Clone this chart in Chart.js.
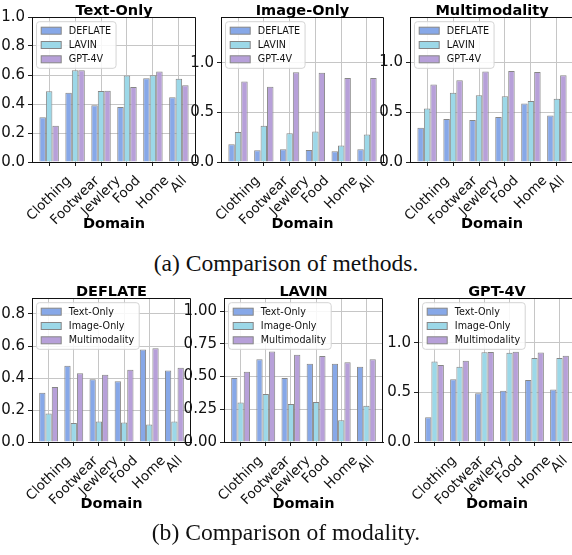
<!DOCTYPE html>
<html>
<head>
<meta charset="utf-8">
<script src="https://cdn.jsdelivr.net/npm/chart.js@4.4.1/dist/chart.umd.min.js"></script>
<style>
  html, body { margin: 0; padding: 0; background: #fff; overflow: hidden; }
  #wrap { position: relative; width: 572px; height: 555px; overflow: hidden; }
  canvas { position: absolute; }
  .cap { position: absolute; left: 0; width: 572px; text-align: center; line-height: 28px;
         font-family: "Liberation Serif", "Times New Roman", serif; font-size: 23.6px; color: #111; }
</style>
</head>
<body>
<div id="wrap">
  <canvas id="c0"></canvas>
  <canvas id="c1"></canvas>
  <canvas id="c2"></canvas>
  <div class="cap" style="top:249px">(a) Comparison of methods.</div>
  <canvas id="c3"></canvas>
  <canvas id="c4"></canvas>
  <canvas id="c5"></canvas>
  <div class="cap" style="top:518px">(b) Comparison of modality.</div>
</div>
<script>
const domains = ['Clothing', 'Footwear', 'Jewlery', 'Food', 'Home', 'All'];
const methods = ['DEFLATE', 'LAVIN', 'GPT-4V'];
const modalities = ['Text-Only', 'Image-Only', 'Multimodality'];

// scores per domain
const textDeflate  = [0.308, 0.477, 0.392, 0.379, 0.578, 0.447];
const textLavin    = [0.488, 0.632, 0.489, 0.597, 0.598, 0.575];
const textGpt      = [0.250, 0.632, 0.492, 0.517, 0.625, 0.529];
const imageDeflate = [0.178, 0.118, 0.128, 0.122, 0.109, 0.128];
const imageLavin   = [0.302, 0.366, 0.290, 0.306, 0.166, 0.276];
const imageGpt     = [0.810, 0.757, 0.904, 0.899, 0.845, 0.845];
const multiDeflate = [0.343, 0.429, 0.421, 0.451, 0.586, 0.464];
const multiLavin   = [0.536, 0.692, 0.667, 0.657, 0.609, 0.633];
const multiGpt     = [0.775, 0.817, 0.905, 0.910, 0.901, 0.868];

const ticksTenth   = [0, 0.2, 0.4, 0.6, 0.8, 1.0];
const ticksHalf    = [0, 0.5, 1.0];
const ticksDeflate = [0, 0.2, 0.4, 0.6, 0.8];
const ticksQuarter = [0, 0.25, 0.5, 0.75, 1.0];

const colors = ['#87a8e8', '#9cd8e8', '#b7a0d9'];
const edge = '#868686';

const panels = [
  { title: 'Text-Only', names: methods, series: [textDeflate, textLavin, textGpt], max: 1.0, ticks: ticksTenth, dec: 1, box: [32, 17, 196, 162] },
  { title: 'Image-Only', names: methods, series: [imageDeflate, imageLavin, imageGpt], max: 1.46, ticks: ticksHalf, dec: 1, box: [221, 17, 384, 162] },
  { title: 'Multimodality', names: methods, series: [multiDeflate, multiLavin, multiGpt], max: 1.45, ticks: ticksHalf, dec: 1, box: [410, 17, 574, 162] },
  { title: 'DEFLATE', names: modalities, series: [textDeflate, imageDeflate, multiDeflate], max: 0.9, ticks: ticksDeflate, dec: 1, box: [32, 298, 191, 442] },
  { title: 'LAVIN', names: modalities, series: [textLavin, imageLavin, multiLavin], max: 1.1, ticks: ticksQuarter, dec: 2, box: [224, 298, 383, 442] },
  { title: 'GPT-4V', names: modalities, series: [textGpt, imageGpt, multiGpt], max: 1.45, ticks: ticksHalf, dec: 1, box: [418, 298, 576, 442] }
];

Chart.defaults.font.family = '"DejaVu Sans", sans-serif';

// matplotlib centres rotated labels on the tick, chart.js ends them there
const centerTicks = {
  id: 'centerTicks',
  beforeDraw(chart) {
    const ctx = chart.ctx;
    chart.scales.x.getLabelItems().forEach(it => {
      if (it.moved) return;
      ctx.font = it.font.string;
      it.options.translation[0] += ctx.measureText(it.label).width * Math.SQRT1_2 / 2;
      it.moved = true;
    });
  }
};

const panelText = {
  id: 'panelText',
  afterDraw(chart, args, opts) {
    const { ctx, chartArea: a } = chart;
    ctx.save();
    ctx.strokeStyle = '#111';
    ctx.lineWidth = 1;
    ctx.beginPath();
    ctx.moveTo(a.left, a.top + 0.5);
    ctx.lineTo(a.right - 0.5, a.top + 0.5);
    ctx.lineTo(a.right - 0.5, a.bottom);
    ctx.stroke();

    const cx = (a.left + a.right) / 2;
    ctx.fillStyle = '#000';
    ctx.textAlign = 'center';
    ctx.font = 'bold 14.5px "DejaVu Sans"';
    ctx.textBaseline = 'alphabetic';
    ctx.fillText(opts.title, cx, a.top - 2.5);
    ctx.textBaseline = 'middle';
    ctx.fillText('Domain', cx, a.bottom + 62);

    // legend box in the upper left corner
    const sets = chart.data.datasets;
    ctx.font = '9.6px "DejaVu Sans"';
    const tw = Math.max(...sets.map(d => ctx.measureText(d.label).width));
    const x = a.left + 4.5, y = a.top + 4.7;
    const w = 4.7 + 20 + 7.6 + tw + 5, h = 9 * 2 + 14.3 * (sets.length - 1);
    ctx.beginPath();
    ctx.roundRect(x, y, w, h, 3);
    ctx.fillStyle = 'rgba(255,255,255,0.85)';
    ctx.fill();
    ctx.strokeStyle = '#d4d4d4';
    ctx.stroke();
    ctx.textAlign = 'left';
    sets.forEach((d, j) => {
      const ry = y + 9 + j * 14.3;
      ctx.fillStyle = d.backgroundColor;
      ctx.fillRect(x + 4.7, ry - 3.5, 20, 7);
      ctx.strokeStyle = edge;
      ctx.strokeRect(x + 4.7, ry - 3.5, 20, 7);
      ctx.fillStyle = '#111';
      ctx.fillText(d.label, x + 32.3, ry + 0.5);
    });
    ctx.restore();
  }
};

panels.forEach((p, k) => {
  const [L, T, R, B] = p.box;
  const padL = 46, padT = 20, padR = 6, padB = 80;
  const cv = document.getElementById('c' + k);
  cv.width = R - L + padL + padR;
  cv.height = B - T + padT + padB;
  cv.style.left = (L - padL) + 'px';
  cv.style.top = (T - padT) + 'px';

  new Chart(cv, {
    type: 'bar',
    data: {
      datasets: p.series.map((s, j) => ({
        label: p.names[j],
        data: s.map((v, i) => ({ x: i, y: v })),
        backgroundColor: colors[j],
        borderColor: edge,
        borderWidth: 1,
        categoryPercentage: 0.75,
        barPercentage: 1.0
      }))
    },
    options: {
      responsive: false,
      animation: false,
      layout: { padding: { top: padT, right: padR, left: 0, bottom: 0 } },
      plugins: {
        legend: { display: false },
        tooltip: { enabled: false },
        panelText: { title: p.title }
      },
      scales: {
        x: {
          type: 'linear', min: -0.66, max: 5.66, offset: false, z: 1,
          afterBuildTicks: s => { s.ticks = domains.map((d, i) => ({ value: i })); },
          afterFit: s => { s.height = padB; },
          ticks: { callback: v => domains[v], autoSkip: false, minRotation: 45, maxRotation: 45,
                   padding: 7, color: '#111', font: { size: 13.5 } },
          grid: { offset: false, color: '#c6c6c6', tickColor: '#222', tickLength: 4 },
          border: { color: '#111', width: 1 }
        },
        y: {
          min: 0, max: p.max, z: 1,
          afterBuildTicks: s => { s.ticks = p.ticks.map(v => ({ value: v })); },
          afterFit: s => { s.width = padL; },
          ticks: { callback: v => v.toFixed(p.dec), padding: 3, color: '#111', font: { size: 15 } },
          grid: { color: '#c6c6c6', tickColor: '#222', tickLength: 4 },
          border: { color: '#111', width: 1 }
        }
      }
    },
    plugins: [centerTicks, panelText]
  });
});
</script>
</body>
</html>
